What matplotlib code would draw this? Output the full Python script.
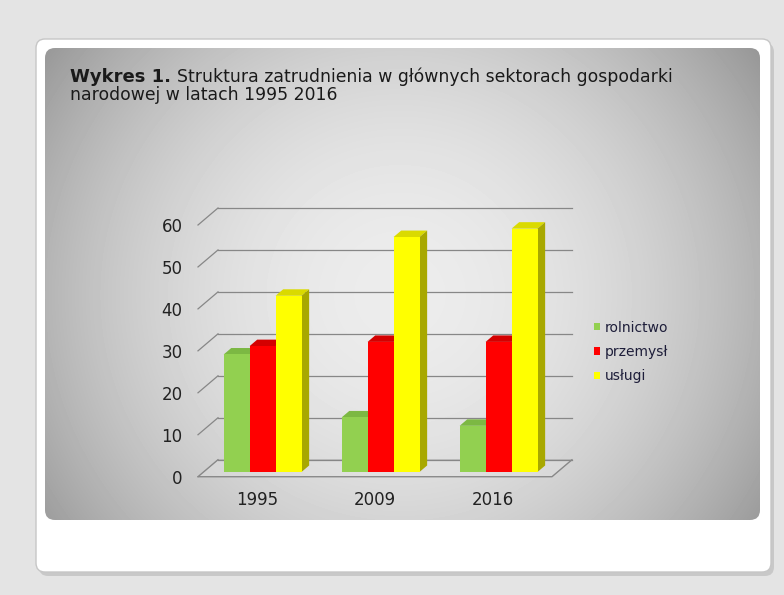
import numpy as np
import matplotlib
matplotlib.use('Agg')
import matplotlib.pyplot as plt
from matplotlib.patches import FancyBboxPatch, Polygon, Patch

# data
years = ['1995', '2009', '2016']
series = ['rolnictwo', 'przemysł', 'usługi']
rolnictwo = [28, 13, 11]
przemysl = [30, 31, 31]
uslugi = [42, 56, 58]
yticks = [0, 10, 20, 30, 40, 50, 60]

front_cols = ['#92d050', '#ff0000', '#ffff00']
top_cols = ['#7cb843', '#d40000', '#dada00']
side_cols = ['#5f8f30', '#a80000', '#a8a800']

W, H = 784, 595
fig = plt.figure(figsize=(W / 100, H / 100), dpi=100)
fig.patch.set_facecolor('#e4e4e4')

# background: card + gradient panel
bg = fig.add_axes([0, 0, 1, 1])
bg.axis('off')
shadow = FancyBboxPatch((39, 43), 735, 533, boxstyle='round,pad=0,rounding_size=9',
                        fc='#a8a8a8', ec='none', alpha=0.45, zorder=1)
bg.add_patch(shadow)
card = FancyBboxPatch((36, 39), 735, 533, boxstyle='round,pad=0,rounding_size=9',
                      fc='white', ec='#c6c6c6', lw=1, zorder=1)
bg.add_patch(card)
panel = FancyBboxPatch((45, 48), 715, 472, boxstyle='round,pad=0,rounding_size=10',
                       fc='none', ec='none', zorder=1)
bg.add_patch(panel)
xx, yy = np.meshgrid(np.arange(45, 760) + 0.5, np.arange(48, 520) + 0.5)
r2 = ((xx - 400) / 380) ** 2 + ((yy - 295) / 370) ** 2
g = np.clip(236 - 64 * r2, 148, 240) / 255
img = bg.imshow(g, cmap='gray', vmin=0, vmax=1, extent=(45, 760, 520, 48),
                interpolation='bilinear', zorder=2)
img.set_clip_path(panel)
bg.set_aspect('auto')
bg.set_xlim(0, W)
bg.set_ylim(H, 0)

# title
t1 = fig.text(70 / W, 1 - 82 / H, 'Wykres 1.', fontweight='bold', fontsize=13,
              va='baseline', color='#1a1a1a')
fig.canvas.draw()
x_after = t1.get_window_extent().x1 + 6
fig.text(x_after / W, 1 - 82 / H, 'Struktura zatrudnienia w głównych sektorach gospodarki',
         fontsize=12.4, va='baseline', color='#1a1a1a')
fig.text(70 / W, 1 - 100 / H, 'narodowej w latach 1995 2016',
         fontsize=12.4, va='baseline', color='#1a1a1a')

# chart (front plane of the 3D box)
ax = fig.add_axes([198 / W, (H - 476.7) / H, 354 / W, 251.7 / H])
ax.set_xlim(-0.5, 2.5)
ax.set_ylim(0, 60)
ax.patch.set_alpha(0)
for s in ax.spines.values():
    s.set_visible(False)

Ddx = 20 / 118
Ddy = 17 / (251.7 / 60)
grid_c = '#878787'

floor = Polygon([(-0.5, 0), (2.5, 0), (2.5 + Ddx, Ddy), (-0.5 + Ddx, Ddy)], closed=True,
                fc='#e6e6e6', ec=grid_c, lw=0.9, alpha=0.35, clip_on=False, zorder=1)
ax.add_patch(floor)
ax.plot([-0.5, 2.5, 2.5 + Ddx], [0, 0, Ddy], color=grid_c, lw=0.9, clip_on=False, zorder=1)
for v in yticks:
    ax.plot([-0.5 + Ddx, 2.5 + Ddx], [v + Ddy, v + Ddy], color=grid_c, lw=0.9,
            clip_on=False, zorder=1)
    ax.plot([-0.5, -0.5 + Ddx], [v, v + Ddy], color=grid_c, lw=0.9,
            clip_on=False, zorder=1)

x = np.arange(len(years))
w = 0.22
t0, bd = 0.28, 0.38
ox, oy = t0 * Ddx, t0 * Ddy
bx, by = bd * Ddx, bd * Ddy
values = [rolnictwo, przemysl, uslugi]
for i, vals in enumerate(values):
    xs = x + (i - 1) * w + ox
    z = 3 + 2 * i
    for xc, v in zip(xs, vals):
        x0, x1 = xc - w / 2, xc + w / 2
        top = Polygon([(x0, v + oy), (x1, v + oy), (x1 + bx, v + oy + by), (x0 + bx, v + oy + by)],
                      closed=True, fc=top_cols[i], ec='none', clip_on=False, zorder=z)
        side = Polygon([(x1, oy), (x1 + bx, oy + by), (x1 + bx, v + oy + by), (x1, v + oy)],
                       closed=True, fc=side_cols[i], ec='none', clip_on=False, zorder=z)
        ax.add_patch(top)
        ax.add_patch(side)
    ax.bar(xs, vals, w, bottom=oy, color=front_cols[i], zorder=z + 1, clip_on=False)

ax.set_yticks(yticks)
ax.set_xticks(x, years)
ax.tick_params(length=0, pad=11, labelsize=12, colors='#222222')
ax.tick_params(axis='x', pad=10)

handles = [Patch(fc=c, ec='none') for c in front_cols]
fig.legend(handles, series, loc='center left', bbox_to_anchor=(594 / W, 1 - 352 / H),
           frameon=False, fontsize=10, handlelength=0.45, handleheight=0.45,
           handletextpad=0.35, labelspacing=0.75, borderpad=0, borderaxespad=0,
           labelcolor='#1e1e3a')

fig.savefig('out.png', dpi=100, facecolor=fig.get_facecolor())
